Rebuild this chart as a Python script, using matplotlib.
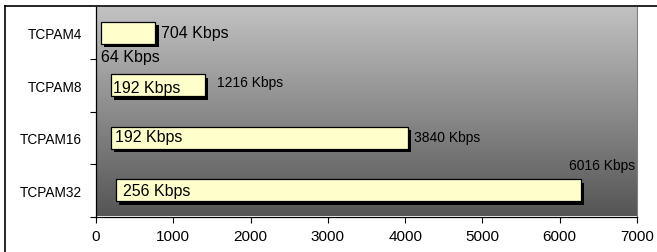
import numpy as np
import matplotlib
matplotlib.use('Agg')
import matplotlib.pyplot as plt
import matplotlib.patheffects as pe
from matplotlib.lines import Line2D

plt.rcParams['font.family'] = ['Liberation Sans', 'DejaVu Sans']

# Data
categories = ['TCPAM4', 'TCPAM8', 'TCPAM16', 'TCPAM32']
base_kbps = [64, 192, 192, 256]
span_kbps = [704, 1216, 3840, 6016]

fig = plt.figure(figsize=(6.57, 2.53), dpi=100)
ax = fig.add_axes([96 / 657, 1 - 217.5 / 253, 541 / 657, 210 / 253])

y = np.arange(len(categories))

# gray gradient background
grad = np.linspace(0, 1, 256).reshape(-1, 1)
ax.imshow(grad, cmap=plt.cm.colors.LinearSegmentedColormap.from_list(
    'g', ['#c2c2c2', '#555555']), extent=[0, 7000, 3.5, -0.5],
    aspect='auto', zorder=0)

bars = ax.barh(y, span_kbps, left=base_kbps, height=0.42, color='#ffffcc',
               edgecolor='black', linewidth=0.9, zorder=2)
for b in bars:
    b.set_path_effects([pe.SimplePatchShadow(offset=(2.5, -2.5), shadow_rgbFace='black', alpha=1),
                        pe.Normal()])

# labels
ax.text(base_kbps[0] + span_kbps[0] + 75, 0, f'{span_kbps[0]} Kbps', fontsize=11.5, va='center', zorder=3)
ax.text(base_kbps[0], 0.45, f'{base_kbps[0]} Kbps', fontsize=11.5, va='center', zorder=3)
ax.text(base_kbps[1] + 25, 1.04, f'{base_kbps[1]} Kbps', fontsize=11.5, va='center', zorder=3)
ax.text(base_kbps[1] + span_kbps[1] + 160, 0.94, f'{span_kbps[1]} Kbps', fontsize=10, va='center', zorder=3)
ax.text(base_kbps[2] + 55, 1.97, f'{base_kbps[2]} Kbps', fontsize=11.5, va='center', zorder=3)
ax.text(base_kbps[2] + span_kbps[2] + 85, 1.99, f'{span_kbps[2]} Kbps', fontsize=10, va='center', zorder=3)
ax.text(base_kbps[3] + 95, 3.01, f'{base_kbps[3]} Kbps', fontsize=11.5, va='center', zorder=3)
ax.text(6975, 2.52, f'{span_kbps[3]} Kbps', fontsize=10, va='center', ha='right', zorder=3)

ax.set_xlim(0, 7000)
ax.set_ylim(3.5, -0.5)
ax.set_xticks(range(0, 7001, 1000))
ax.set_yticks(y)
ax.set_yticklabels(categories, fontsize=9.8)
ax.set_yticks(np.arange(0.5, 4, 1), minor=True)
ax.tick_params(axis='y', which='major', length=0, pad=10)
ax.tick_params(axis='y', which='minor', length=4, width=0.8)
ax.tick_params(axis='x', length=4, width=0.8, labelsize=11, pad=5)

ax.spines['top'].set_visible(False)
ax.spines['right'].set_color('#808080')
ax.spines['left'].set_linewidth(0.9)
ax.spines['bottom'].set_linewidth(0.9)

# outer frame of the chart
fig.add_artist(Line2D([5 / 657, 5 / 657], [0, 1 - 7 / 253], color='black', lw=1.2))
fig.add_artist(Line2D([5 / 657, 1], [1 - 7 / 253, 1 - 7 / 253], color='black', lw=1.2))

fig.savefig('out.png', dpi=100)
